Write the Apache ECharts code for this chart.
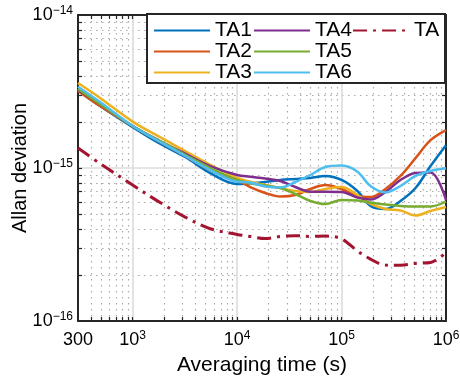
<!DOCTYPE html>
<html><head><meta charset="utf-8">
<script src="https://cdn.jsdelivr.net/npm/echarts@6/dist/echarts.min.js"></script>
<style>html,body{margin:0;padding:0;background:#fff}#c{width:460px;height:377px}</style>
</head><body><div id="c"></div>
<script>
// Averaging times (s)
const tau = [300, 488, 1000, 1832, 3184, 5530, 10000, 13360, 18620, 25920, 36100, 50250, 69980, 100000, 141900, 189200, 263300, 366600, 510600, 711000, 1000000];
// Allan deviations, in units of 1e-15
const UNIT = 1e-15;
const TA1 = [3.24, 2.54, 1.85, 1.44, 1.18, 0.927, 0.786, 0.794, 0.81, 0.835, 0.847, 0.86, 0.887, 0.835, 0.707, 0.565, 0.54, 0.609, 0.74, 1.03, 1.41];
const TA2 = [3.19, 2.54, 1.88, 1.48, 1.2, 0.97, 0.835, 0.751, 0.687, 0.651, 0.666, 0.729, 0.774, 0.729, 0.656, 0.646, 0.729, 0.887, 1.16, 1.52, 1.77];
const TA3 = [3.59, 2.87, 2.01, 1.59, 1.29, 1.05, 0.86, 0.814, 0.774, 0.74, 0.707, 0.697, 0.729, 0.751, 0.666, 0.582, 0.54, 0.528, 0.489, 0.524, 0.556];
const TA4 = [3.24, 2.62, 1.88, 1.5, 1.24, 1.03, 0.9, 0.877, 0.854, 0.822, 0.751, 0.7, 0.7, 0.697, 0.641, 0.622, 0.697, 0.835, 0.927, 0.934, 0.618];
const TA5 = [3.28, 2.62, 1.88, 1.5, 1.22, 1.0, 0.835, 0.794, 0.768, 0.74, 0.676, 0.609, 0.582, 0.618, 0.613, 0.595, 0.577, 0.565, 0.56, 0.56, 0.604];
const TA6 = [3.4, 2.7, 1.88, 1.48, 1.2, 0.97, 0.814, 0.804, 0.757, 0.746, 0.81, 0.9, 1.015, 1.038, 0.946, 0.763, 0.692, 0.763, 0.887, 0.956, 0.995];
const TA  = [1.35, 1.07, 0.774, 0.595, 0.478, 0.401, 0.368, 0.357, 0.346, 0.357, 0.361, 0.357, 0.359, 0.344, 0.287, 0.254, 0.232, 0.231, 0.238, 0.241, 0.281];

// Tick labels
const xLabelValues = [300, 1e3, 1e4, 1e5, 1e6];
const yLabelValues = [1e-16, 1e-15, 1e-14];
const xMajor = [1e3, 1e4, 1e5];
const yMajor = [1e-15];
const xMinor = [400, 500, 600, 700, 800, 900,
  2e3, 3e3, 4e3, 5e3, 6e3, 7e3, 8e3, 9e3,
  2e4, 3e4, 4e4, 5e4, 6e4, 7e4, 8e4, 9e4,
  2e5, 3e5, 4e5, 5e5, 6e5, 7e5, 8e5, 9e5];
const yMinor = [2e-16, 3e-16, 4e-16, 5e-16, 6e-16, 7e-16, 8e-16, 9e-16,
  2e-15, 3e-15, 4e-15, 5e-15, 6e-15, 7e-15, 8e-15, 9e-15];

const ff = '"Liberation Sans", Arial, Helvetica, sans-serif';
const ink = '#262626';
const axLine = {show: true, onZero: false, lineStyle: {color: ink, width: 2}};
const tick = (vals) => ({show: true, inside: true, length: 4, lineStyle: {color: ink, width: 1.2}, customValues: vals});
const richX = {
  b: {fontSize: 18, lineHeight: 20, fontFamily: ff, color: '#000'},
  sup: {fontSize: 12, lineHeight: 12, verticalAlign: 'top', fontFamily: ff, color: '#000'}
};
const fmtX = v => {
  if (Math.abs(v - 300) < 1) return '{b|300}';
  return '{b|10}{sup|' + Math.round(Math.log10(v)) + '}';
};
const fmtY = v => '{b|10}{sup|\u2212' + (-Math.round(Math.log10(v))) + '}';
const minorGrid = {show: true, lineStyle: {color: '#ababab', width: 1.2, type: [1.5, 4.5]}};
const majorGrid = {show: true, lineStyle: {color: '#dcdcdc', width: 1.6}};
const gridBox = {left: 78, right: 14, top: 15, bottom: 56, containLabel: false, outerBoundsMode: 'none'};

const colors = ['#0072BD', '#D95319', '#EDB120', '#7E2F8E', '#77AC30', '#4DBEEE', '#A2142F'];
const names = ['TA1', 'TA2', 'TA3', 'TA4', 'TA5', 'TA6', 'TA'];
const sets = [TA1, TA2, TA3, TA4, TA5, TA6, TA];

const series = sets.map((vals, k) => ({
  name: names[k], type: 'line', xAxisIndex: 0, yAxisIndex: 0,
  data: tau.map((t, i) => [t, vals[i] * UNIT]),
  symbol: 'none', showSymbol: false, smooth: 0.35, silent: true,
  lineStyle: k === 6 ? {color: colors[k], width: 3, type: [14, 6, 3, 6], cap: 'butt'} : {color: colors[k], width: 2.5},
  itemStyle: {color: colors[k]},
  z: k === 6 ? 2 : 3
}));

const legendBase = {
  orient: 'vertical', top: 20, itemWidth: 56, itemHeight: 10, itemGap: 0, padding: 0,
  itemStyle: {opacity: 0},
  textStyle: {fontFamily: ff, fontSize: 21, color: '#000', lineHeight: 20},
  selectedMode: false, z: 5
};

const option = {
  animation: false,
  backgroundColor: '#fff',
  grid: [Object.assign({}, gridBox), Object.assign({}, gridBox)],
  legend: [
    Object.assign({}, legendBase, {left: 153, data: ['TA1', 'TA2', 'TA3']}),
    Object.assign({}, legendBase, {left: 253, data: ['TA4', 'TA5', 'TA6']}),
    Object.assign({}, legendBase, {left: 352, data: ['TA']})
  ],
  graphic: [{type: 'rect', z: 4, shape: {x: 147, y: 14, width: 298, height: 69},
    style: {fill: '#fff', stroke: ink, lineWidth: 2}}],
  xAxis: [
    {type: 'log', gridIndex: 0, position: 'bottom', min: 300, max: 1e6, logBase: 10,
      axisLine: axLine, axisTick: tick(xMajor),
      axisLabel: {customValues: xLabelValues, formatter: fmtX, margin: 9, rich: richX, fontFamily: ff, fontSize: 18, color: '#000'},
      splitLine: majorGrid,
      name: 'Averaging time (s)', nameLocation: 'middle', nameGap: 34, nameMoveOverlap: false,
      nameTextStyle: {fontFamily: ff, fontSize: 21, color: '#000'}},
    {type: 'log', gridIndex: 0, position: 'top', min: 300, max: 1e6, logBase: 10,
      axisLine: axLine, axisTick: tick(xMinor.concat(xMajor)), axisLabel: {show: false}, splitLine: {show: false}},
    {type: 'log', gridIndex: 1, position: 'bottom', min: 300, max: 1e6, logBase: 10,
      axisLine: {show: false}, axisTick: tick(xMinor), axisLabel: {show: false}, splitLine: minorGrid}
  ],
  yAxis: [
    {type: 'log', gridIndex: 0, position: 'left', min: 1e-16, max: 1e-14, logBase: 10,
      axisLine: axLine, axisTick: tick(yMajor),
      axisLabel: {customValues: yLabelValues, formatter: fmtY, margin: 5, rich: richX, fontFamily: ff, fontSize: 18, color: '#000'},
      splitLine: majorGrid,
      name: 'Allan deviation', nameLocation: 'middle', nameGap: 48, nameMoveOverlap: false,
      nameTextStyle: {fontFamily: ff, fontSize: 20, color: '#000'}},
    {type: 'log', gridIndex: 0, position: 'right', min: 1e-16, max: 1e-14, logBase: 10,
      axisLine: axLine, axisTick: tick(yMinor.concat(yMajor)), axisLabel: {show: false}, splitLine: {show: false}},
    {type: 'log', gridIndex: 1, position: 'left', min: 1e-16, max: 1e-14, logBase: 10,
      axisLine: {show: false}, axisTick: tick(yMinor), axisLabel: {show: false}, splitLine: minorGrid}
  ],
  series: series
};

const chart = echarts.init(document.getElementById('c'), null, {renderer: 'canvas', width: 460, height: 377});
chart.setOption(option);
</script>
</body></html>
